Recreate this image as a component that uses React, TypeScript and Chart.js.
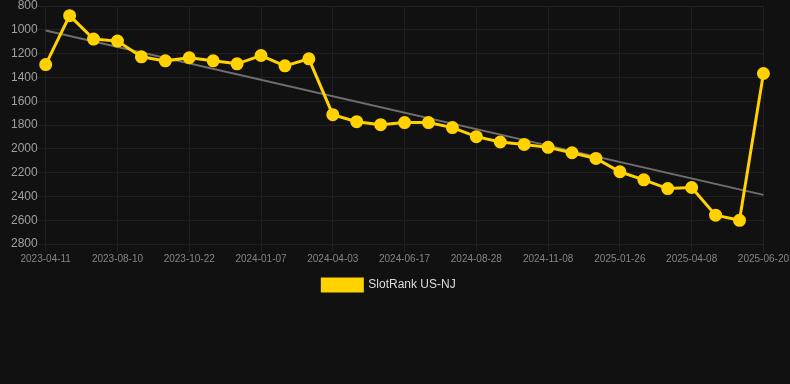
import React, { useEffect, useRef } from "react";
import { Chart, registerables } from "chart.js";

Chart.register(...registerables);

const dateLabels: string[] = [
  "2023-04-11", "2023-05-20", "2023-07-01",
  "2023-08-10", "2023-08-30", "2023-09-29",
  "2023-10-22", "2023-11-19", "2023-12-14",
  "2024-01-07", "2024-02-05", "2024-03-05",
  "2024-04-03", "2024-04-27", "2024-05-22",
  "2024-06-17", "2024-07-11", "2024-08-04",
  "2024-08-28", "2024-09-21", "2024-10-15",
  "2024-11-08", "2024-12-04", "2024-12-30",
  "2025-01-26", "2025-02-19", "2025-03-15",
  "2025-04-08", "2025-05-02", "2025-05-26",
  "2025-06-20",
];

const rankValues: number[] = [
  1292, 881, 1078, 1095, 1227, 1261, 1235, 1261, 1286, 1216, 1303, 1244,
  1713, 1772, 1797, 1780, 1780, 1822, 1898, 1943, 1963, 1988, 2033, 2081,
  2193, 2261, 2334, 2325, 2558, 2601, 1367,
];

// trend line endpoints
const trendStart = 1006;
const trendEnd = 2387;

const yMin = 800;
const yMax = 2800;
const yStep = 200;

const seriesName = "SlotRank US-NJ";
const lineColor = "#FFD200";

export default function App() {
  const ref = useRef<HTMLCanvasElement | null>(null);

  useEffect(() => {
    document.body.style.margin = "0";
    document.body.style.background = "#111111";
    const canvas = ref.current;
    if (!canvas) return;
    const last = dateLabels.length - 1;
    const trendData = dateLabels.map((_, i) =>
      i === 0 ? trendStart : i === last ? trendEnd : null
    );
    const chart = new Chart(canvas, {
      type: "line",
      data: {
        labels: dateLabels,
        datasets: [
          {
            label: seriesName,
            data: rankValues,
            borderColor: lineColor,
            backgroundColor: lineColor,
            borderWidth: 3,
            pointRadius: 5,
            pointHoverRadius: 5,
            pointBackgroundColor: lineColor,
            pointBorderColor: lineColor,
            tension: 0,
            order: 1,
          },
          {
            label: "trend",
            data: trendData,
            spanGaps: true,
            borderColor: "#6f6f6f",
            backgroundColor: "#6f6f6f",
            borderWidth: 2,
            pointRadius: 0,
            pointHoverRadius: 0,
            order: 2,
          },
        ],
      },
      options: {
        animation: false,
        responsive: true,
        maintainAspectRatio: false,
        layout: { padding: { left: 11, right: 23, top: 0, bottom: 0 } },
        plugins: {
          legend: {
            position: "bottom",
            labels: {
              boxWidth: 40,
              boxHeight: 12,
              padding: 13,
              color: "#dddddd",
              font: { size: 12 },
              filter: (item) => item.text === seriesName,
            },
          },
          tooltip: { enabled: false },
        },
        scales: {
          x: {
            grid: { color: "#202020", drawTicks: true, tickLength: 8 },
            border: { display: false },
            afterBuildTicks: (axis: any) => {
              axis.ticks = axis.ticks.filter((_t: any, i: number) => i % 3 === 0);
            },
            ticks: {
              autoSkip: false,
              maxRotation: 0,
              color: "#858585",
              font: { size: 10 },
              padding: 1,
            },
          },
          y: {
            reverse: true,
            min: yMin,
            max: yMax,
            grid: { color: "#202020", drawTicks: true, tickLength: 8 },
            border: { display: false },
            ticks: {
              stepSize: yStep,
              color: "#a0a0a0",
              font: { size: 12 },
              padding: 0,
              callback: (v: any) => String(v),
            },
          },
        },
      },
    });
    return () => chart.destroy();
  }, []);

  return (
    <div style={{ width: 790, height: 303, marginTop: -2, position: "relative", background: "#111111" }}>
      <canvas ref={ref} />
    </div>
  );
}
